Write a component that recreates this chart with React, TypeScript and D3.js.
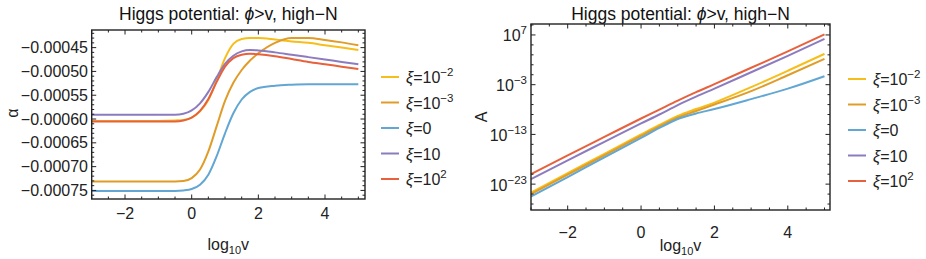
import React from 'react'
import * as d3 from 'd3'

const width = 926
const height = 259
const font = 'Liberation Sans, Arial, sans-serif'

// legend (same order for both panels)
const legendBase = ['10', '10', '0', '10', '10']
const legendSup = ['−2', '−3', '', '', '2']
const colors = ['#F7BE1B', '#E09C28', '#62A6D4', '#8C7CBF', '#E8613D']

// left panel: alpha vs log10 v
const alphaX = [-3, -1, -0.5, -0.25, 0, 0.25, 0.5, 0.75, 1, 1.25, 1.5, 1.75, 2, 2.5, 3, 3.5, 4, 4.5, 5]
const alphaXiM2 = [-0.000604, -0.000604, -0.000603, -0.000602, -0.000597, -0.000584, -0.00056, -0.000518, -0.000472, -0.000442, -0.000432, -0.00043, -0.00043, -0.000433, -0.000437, -0.00044, -0.000445, -0.00045, -0.000455]
const alphaXiM3 = [-0.000731, -0.000731, -0.000731, -0.00073, -0.000724, -0.000706, -0.000668, -0.000615, -0.000562, -0.000524, -0.000497, -0.000477, -0.000462, -0.00044, -0.00043, -0.00043, -0.000434, -0.000439, -0.000445]
const alphaXi0 = [-0.000751, -0.000751, -0.000751, -0.00075, -0.000747, -0.000738, -0.000717, -0.000678, -0.00063, -0.000588, -0.000559, -0.000543, -0.000535, -0.00053, -0.000528, -0.000527, -0.000527, -0.000527, -0.000527]
const alphaXi10 = [-0.000591, -0.000591, -0.000591, -0.000589, -0.000582, -0.000567, -0.000543, -0.000512, -0.000484, -0.000467, -0.000458, -0.000455, -0.000456, -0.00046, -0.000465, -0.00047, -0.000475, -0.00048, -0.000485]
const alphaXi100 = [-0.000605, -0.000605, -0.000605, -0.000603, -0.000597, -0.000583, -0.000558, -0.000522, -0.00049, -0.000472, -0.000465, -0.000463, -0.000464, -0.000468, -0.000474, -0.00048, -0.000485, -0.00049, -0.000495]
const alphaYTicks = [-0.00075, -0.0007, -0.00065, -0.0006, -0.00055, -0.0005, -0.00045]

// right panel: log10 A vs log10 v
const ampX = [-3, -2, -1, 0, 0.5, 1, 1.5, 2, 3, 4, 5]
const ampXiM2 = [-24.7, -20.8, -16.9, -13.0, -11.1, -9.3, -7.9, -6.6, -3.5, -0.2, 3.2]
const ampXiM3 = [-25.0, -21.1, -17.2, -13.3, -11.4, -9.6, -8.3, -7.0, -4.3, -1.1, 2.2]
const ampXi0 = [-25.5, -21.6, -17.6, -13.7, -11.7, -9.9, -8.8, -7.9, -5.9, -3.8, -1.3]
const ampXi10 = [-22.0, -18.2, -14.5, -10.8, -9.0, -7.1, -5.4, -3.8, -0.5, 2.8, 6.2]
const ampXi100 = [-21.0, -17.2, -13.5, -9.8, -8.0, -6.2, -4.5, -2.9, 0.4, 3.7, 7.1]
const ampYTicks = [-23, -13, -3, 7]

const xTicks = [-2, 0, 2, 4]

const alphaSeries = [alphaXiM2, alphaXiM3, alphaXi0, alphaXi10, alphaXi100]
const ampSeries = [ampXiM2, ampXiM3, ampXi0, ampXi10, ampXi100]

const fmtAlpha = (v: number) => '−' + Math.abs(v).toFixed(5)
const fmtInt = (v: number) => (v < 0 ? '−' + Math.abs(v) : String(v))

const Frame = ({ xs, ys, majX, minX, majY, minY }: any) => {
  const [x0, x1] = xs.range()
  const [y0, y1] = ys.range()
  const segs: number[][] = []
  majX.forEach((v: number) => { const x = xs(v); segs.push([x, y0, x, y0 - 4.5], [x, y1, x, y1 + 4.5]) })
  minX.forEach((v: number) => { const x = xs(v); segs.push([x, y0, x, y0 - 2.5], [x, y1, x, y1 + 2.5]) })
  majY.forEach((v: number) => { const y = ys(v); segs.push([x0, y, x0 + 4.5, y], [x1, y, x1 - 4.5, y]) })
  minY.forEach((v: number) => { const y = ys(v); segs.push([x0, y, x0 + 2.5, y], [x1, y, x1 - 2.5, y]) })
  return (
    <g stroke="#222" strokeWidth={1}>
      {segs.map((s, i) => <line key={i} x1={s[0]} y1={s[1]} x2={s[2]} y2={s[3]} />)}
      <rect x={x0} y={y1} width={x1 - x0} height={y0 - y1} fill="none" strokeWidth={1.4} />
    </g>
  )
}

const Legend = ({ x, y0, dy }: any) => (
  <g fontFamily={font} fontSize={16} fill="#222">
    {colors.map((c, i) => (
      <g key={i} transform={`translate(${x},${y0 + i * dy})`}>
        <line x1={0} x2={18} y1={0} y2={0} stroke={c} strokeWidth={2} />
        <text x={25} y={6}>
          <tspan fontStyle="italic">ξ</tspan>
          <tspan>={legendBase[i]}</tspan>
          {legendSup[i] && <tspan dy={-7} fontSize={11.5}>{legendSup[i]}</tspan>}
        </text>
      </g>
    ))}
  </g>
)

const XLabel = ({ x, y }: any) => (
  <text x={x} y={y} textAnchor="middle" fontFamily={font} fontSize={16} fill="#222">
    log<tspan dy={4} fontSize={11}>10</tspan><tspan dy={-4}>v</tspan>
  </text>
)

const Title = ({ x }: any) => (
  <text x={x} y={20} textAnchor="middle" fontFamily={font} fontSize={17.5} fill="#111">
    Higgs potential: <tspan fontStyle="italic">ϕ</tspan>&gt;v, high−N
  </text>
)

const App = () => {
  // left
  const xL = d3.scaleLinear().domain([-3, 5.2]).range([91.7, 365])
  const yL = d3.scaleLinear().domain([-0.000768, -0.000413]).range([199, 30])
  const lineL = d3.line<number>().x((_, i) => xL(alphaX[i])).y(d => yL(d)).curve(d3.curveMonotoneX)

  // right
  const xR = d3.scaleLinear().domain([-3, 5.15]).range([531, 830])
  const yR = d3.scaleLinear().domain([-28.2, 9.2]).range([210, 24])
  const lineR = d3.line<number>().x((_, i) => xR(ampX[i])).y(d => yR(d)).curve(d3.curveMonotoneX)

  const minorX = d3.range(-3, 5.21, 0.5).filter(v => !xTicks.includes(v))
  const minorYL = d3.range(-0.00076, -0.000413, 0.00001).filter(v => !alphaYTicks.some(t => Math.abs(t - v) < 1e-9))
  const minorYR = d3.range(-27, 9.2, 2).filter(v => !ampYTicks.includes(v))

  return (
    <svg width={width} height={height} style={{ position: 'absolute', left: 0, top: 0, background: '#fff' }}>
      <rect width={width} height={height} fill="#fff" />
      <Title x={228.3} />
      <Title x={680.5} />

      {/* left panel */}
      <g fill="none" strokeWidth={2}>
        {alphaSeries.map((s, i) => <path key={i} d={lineL(s) || ''} stroke={colors[i]} />)}
      </g>
      <Frame xs={xL} ys={yL} majX={xTicks} minX={minorX} majY={alphaYTicks} minY={minorYL} />
      <g fontFamily={font} fontSize={16} fill="#222">
        {alphaYTicks.map(v => <text key={v} x={88} y={yL(v) + 5.5} textAnchor="end">{fmtAlpha(v)}</text>)}
        {xTicks.map(v => <text key={v} x={xL(v)} y={219} textAnchor="middle">{fmtInt(v)}</text>)}
        <text transform="translate(18,113) rotate(-90)" textAnchor="middle" fontSize={16}>α</text>
      </g>
      <XLabel x={228.3} y={250} />
      <Legend x={381} y0={77} dy={25.5} />

      {/* right panel */}
      <g fill="none" strokeWidth={2}>
        {ampSeries.map((s, i) => <path key={i} d={lineR(s) || ''} stroke={colors[i]} />)}
      </g>
      <Frame xs={xR} ys={yR} majX={xTicks} minX={minorX} majY={ampYTicks} minY={minorYR} />
      <g fontFamily={font} fontSize={16} fill="#222">
        {ampYTicks.map(v => (
          <text key={v} x={527} y={yR(v) + 6.5} textAnchor="end">
            10<tspan dy={-7} fontSize={11.5}>{fmtInt(v)}</tspan>
          </text>
        ))}
        {xTicks.map(v => <text key={v} x={xR(v)} y={238} textAnchor="middle">{fmtInt(v)}</text>)}
        <text transform="translate(487,117) rotate(-90)" textAnchor="middle">A</text>
      </g>
      <XLabel x={680.5} y={251} />
      <Legend x={848} y0={79} dy={25.5} />
    </svg>
  )
}

export default App
